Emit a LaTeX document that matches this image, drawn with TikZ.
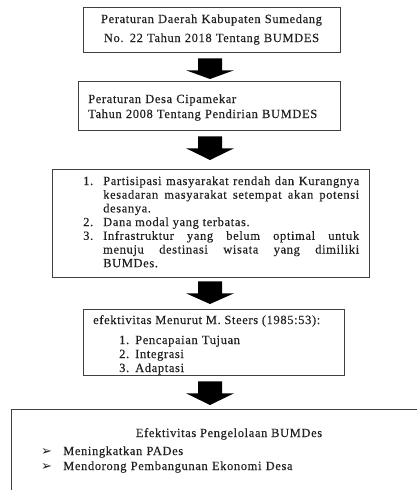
\documentclass[tikz,border=0pt]{standalone}
\usepackage{fontspec}
\setmainfont{Liberation Serif}[LetterSpace=5,FakeBold=0.3]
\newfontfamily\symfont{DejaVu Sans}
\usetikzlibrary{calc}
\definecolor{boxgray}{HTML}{404040}
\definecolor{txtcol}{HTML}{202020}
\begin{document}
\begin{tikzpicture}[x=1pt,y=-1pt,
  box/.style={draw=boxgray, line width=1.3pt, rectangle, inner sep=0pt, anchor=north west},
  txt/.style={inner sep=0pt, text=txtcol, font=\fontsize{12.5}{13.7}\selectfont},
  blockarrow/.style={fill=black, to path={
     ($(\tikztostart)+(-12,0)$) -- ($(\tikztostart)+(12,0)$) -- ($(\tikztostart)+(12,12)$) --
     ($(\tikztostart)+(24,12)$) -- (\tikztotarget) -- ($(\tikztostart)+(-24,12)$) --
     ($(\tikztostart)+(-12,12)$) -- cycle}}]
\useasboundingbox (0,0) rectangle (417,490);
\clip (0,0) rectangle (417,490);
\coordinate (ax) at (210,0);

% boxes
\node[box, minimum width=257pt, minimum height=45pt] (b1) at (83,7) {};
\node[box, minimum width=262pt, minimum height=49pt] (b2) at (78,81) {};
\node[box, minimum width=317pt, minimum height=108pt] (b3) at (52,169) {};
\node[box, minimum width=261pt, minimum height=66pt] (b4) at (83,309) {};
\node[box, minimum width=440pt, minimum height=110pt] (b5) at (11,409) {};

% texts
\node[txt, text width=257pt, align=center, anchor=base, font=\fontsize{12.5}{19}\selectfont] (t1) at (211.5,23)
  {Peraturan Daerah Kabupaten Sumedang\\No. 22 Tahun 2018 Tentang BUMDES};
\node[txt, text width=250pt, align=left, anchor=base west, font=\fontsize{12.5}{15}\selectfont] (t2) at (88,103)
  {Peraturan Desa Cipamekar\\Tahun 2008 Tentang Pendirian BUMDES};
\node[txt, text width=276pt, align=justify, anchor=base west] (t3) at (83,185)
  {\hangindent=20pt\hangafter=1\noindent\makebox[20pt][l]{1.}Partisipasi masyarakat rendah dan Kurangnya\linebreak
   kesadaran masyarakat setempat akan potensi\linebreak desanya.\par
   \hangindent=20pt\hangafter=1\noindent\makebox[20pt][l]{2.}Dana modal yang terbatas.\par
   \hangindent=20pt\hangafter=1\noindent\makebox[20pt][l]{3.}Infrastruktur yang belum optimal untuk\linebreak
   menuju destinasi wisata yang dimiliki\linebreak BUMDes.\par};
\node[txt, anchor=base west] (t4) at (93,324) {efektivitas Menurut M. Steers (1985:53):};
\node[txt, text width=200pt, align=left, anchor=base west, font=\fontsize{12.5}{14}\selectfont] (t4l) at (119,344)
  {\makebox[16pt][l]{1.}Pencapaian Tujuan\\\makebox[16pt][l]{2.}Integrasi\\\makebox[16pt][l]{3.}Adaptasi};
\node[txt, anchor=base] (t5) at (229,437) {Efektivitas Pengelolaan BUMDes};
\node[txt, text width=330pt, align=left, anchor=base west, font=\fontsize{12.5}{15}\selectfont] (t5l) at (41,455)
  {\makebox[22pt][l]{\symfont\fontsize{13}{13}\selectfont ➢}Meningkatkan PADes\\
   \makebox[22pt][l]{\symfont\fontsize{13}{13}\selectfont ➢}Mendorong Pembangunan Ekonomi Desa};

% block arrows
\coordinate (a1s) at ($(b1.south -| ax)+(0,5)$);
\coordinate (a1e) at ($(b2.north -| ax)+(0,-2)$);
\coordinate (a2s) at ($(b2.south -| ax)+(0,5)$);
\coordinate (a2e) at ($(b3.north -| ax)+(0,-9)$);
\coordinate (a3s) at ($(b3.south -| ax)+(0,3)$);
\coordinate (a3e) at ($(b4.north -| ax)+(0,-5)$);
\coordinate (a4s) at ($(b4.south -| ax)+(0,5)$);
\coordinate (a4e) at ($(b5.north -| ax)+(0,-4)$);
\fill[blockarrow] (a1s) to (a1e);
\fill[blockarrow] (a2s) to (a2e);
\fill[blockarrow] (a3s) to (a3e);
\fill[blockarrow] (a4s) to (a4e);
\end{tikzpicture}
\end{document}
